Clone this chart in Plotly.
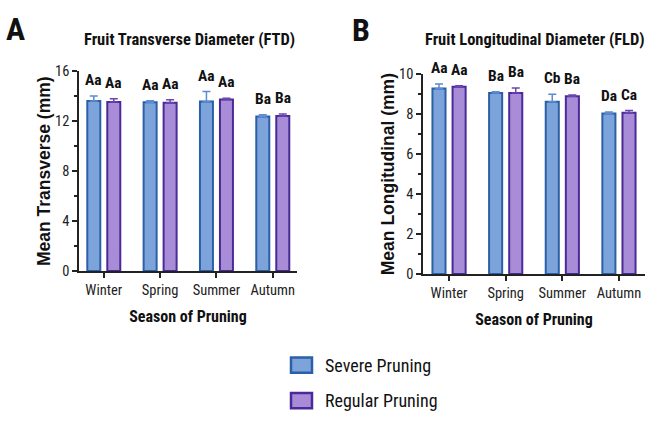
import plotly.graph_objects as go

# Season categories and treatment data
seasons = ["Winter", "Spring", "Summer", "Autumn"]

ftd_severe = [13.62, 13.52, 13.58, 12.38]
ftd_severe_err = [0.40, 0.12, 0.80, 0.14]
ftd_regular = [13.55, 13.48, 13.75, 12.42]
ftd_regular_err = [0.25, 0.24, 0.10, 0.17]
ftd_sev_letters = ["Aa", "Aa", "Aa", "Ba"]
ftd_reg_letters = ["Aa", "Aa", "Aa", "Ba"]

fld_severe = [9.29, 9.06, 8.62, 8.03]
fld_severe_err = [0.22, 0.06, 0.38, 0.08]
fld_regular = [9.37, 9.06, 8.90, 8.07]
fld_regular_err = [0.05, 0.25, 0.06, 0.11]
fld_sev_letters = ["Aa", "Ba", "Cb", "Da"]
fld_reg_letters = ["Aa", "Ba", "Ba", "Ca"]

SEV_FILL, SEV_LINE, SEV_ERR = "#7DA3DB", "#2B5FA8", "#5B8BD2"
REG_FILL, REG_LINE, REG_ERR = "#A98CD8", "#4A2A96", "#6A44B0"

COND = "Roboto Condensed, Open Sans Condensed, sans-serif"
WIDE = "Liberation Sans, Arial, sans-serif"
INK = "#111111"

fig = go.Figure()


def add_panel(xa, ya, sev, sev_err, reg, reg_err):
    for vals, errs, fill, line, ecol, grp in [
        (sev, sev_err, SEV_FILL, SEV_LINE, SEV_ERR, "s"),
        (reg, reg_err, REG_FILL, REG_LINE, REG_ERR, "r"),
    ]:
        fig.add_trace(go.Bar(
            x=seasons, y=vals, xaxis=xa, yaxis=ya,
            offsetgroup=grp,
            marker=dict(color=fill, line=dict(color=line, width=2)),
            error_y=dict(type="data", symmetric=False, array=errs,
                         arrayminus=[0] * len(errs), color=ecol,
                         thickness=1.5, width=4),
            showlegend=False, hoverinfo="skip",
        ))


add_panel("x", "y", ftd_severe, ftd_severe_err, ftd_regular, ftd_regular_err)
add_panel("x2", "y2", fld_severe, fld_severe_err, fld_regular, fld_regular_err)

annotations = []


def add_letters(xref, yref, sev, sev_err, reg, reg_err, sl, rl):
    for i, s in enumerate(seasons):
        for vals, errs, labs, sh in [(sev, sev_err, sl, -10), (reg, reg_err, rl, 10)]:
            annotations.append(dict(
                x=s, y=vals[i] + errs[i], xref=xref, yref=yref,
                text=labs[i], showarrow=False, xshift=sh, yshift=5,
                xanchor="center", yanchor="bottom",
                font=dict(family=COND, size=15.5, color=INK, weight="bold"),
            ))


add_letters("x", "y", ftd_severe, ftd_severe_err, ftd_regular, ftd_regular_err,
            ftd_sev_letters, ftd_reg_letters)
add_letters("x2", "y2", fld_severe, fld_severe_err, fld_regular, fld_regular_err,
            fld_sev_letters, fld_reg_letters)


def paper_text(px, py, text, size, weight="bold", family=COND, xanchor="center"):
    annotations.append(dict(
        x=px / 646, y=1 - py / 426, xref="paper", yref="paper", text=text,
        showarrow=False, xanchor=xanchor, yanchor="middle",
        font=dict(family=family, size=size, color=INK, weight=weight)))


# Panel letters and titles
paper_text(15, 22, "A", 32)
paper_text(361, 23, "B", 32)
paper_text(189, 33, "Fruit Transverse Diameter (FTD)", 16.5)
paper_text(535, 33, "Fruit Longitudinal Diameter (FLD)", 16.5)

# Legend drawn below the panels
shapes = []
for name, fill, line, yc in [("Severe Pruning", SEV_FILL, SEV_LINE, 372),
                             ("Regular Pruning", REG_FILL, REG_LINE, 409)]:
    shapes.append(dict(type="rect", xref="paper", yref="paper",
                       x0=291 / 646, x1=312 / 646,
                       y0=1 - (yc + 8) / 426, y1=1 - (yc - 8) / 426,
                       fillcolor=fill, line=dict(color=line, width=2.5)))
    paper_text(323, yc, name, 18, weight="normal", xanchor="left")

axis_common = dict(showline=True, linecolor="#222222", linewidth=1.5,
                   ticks="outside", ticklen=5, tickwidth=1.5, tickcolor="#222222",
                   showgrid=False, zeroline=False,
                   tickfont=dict(family=COND, size=14.5, color="#222222"))

xtitle = dict(text="<b>Season of Pruning</b>", standoff=13,
              font=dict(family=COND, size=16, color=INK))

fig.update_layout(
    width=646, height=426,
    margin=dict(l=0, r=0, t=0, b=0),
    paper_bgcolor="white", plot_bgcolor="white",
    barmode="group", bargap=0.29, bargroupgap=0.35,
    annotations=annotations, shapes=shapes,
    xaxis=dict(domain=[79 / 646, 297 / 646], range=[-0.44, 3.43],
               anchor="y", title=xtitle, **axis_common),
    yaxis=dict(domain=[1 - 274 / 426, 1 - 66 / 426], range=[0, 16],
               tickvals=[0, 4, 8, 12, 16], anchor="x",
               minor=dict(tickvals=[2, 6, 10, 14], ticks="outside", ticklen=3,
                          tickwidth=1.5, tickcolor="#222222"),
               title=dict(text="<b>Mean Transverse (mm)</b>", standoff=0,
                          font=dict(family=WIDE, size=17.5, color=INK)),
               **axis_common),
    xaxis2=dict(domain=[423 / 646, 645 / 646], range=[-0.46, 3.46],
                anchor="y2", title=xtitle, **axis_common),
    yaxis2=dict(domain=[1 - 277 / 426, 1 - 69 / 426], range=[0, 10],
                tickvals=[0, 2, 4, 6, 8, 10], anchor="x2",
                minor=dict(tickvals=[1, 3, 5, 7, 9], ticks="outside", ticklen=3,
                           tickwidth=1.5, tickcolor="#222222"),
                title=dict(text="<b>Mean Longitudinal (mm)</b>", standoff=0,
                           font=dict(family=WIDE, size=17.5, color=INK)),
                **axis_common),
)

fig.write_html("out.html")
